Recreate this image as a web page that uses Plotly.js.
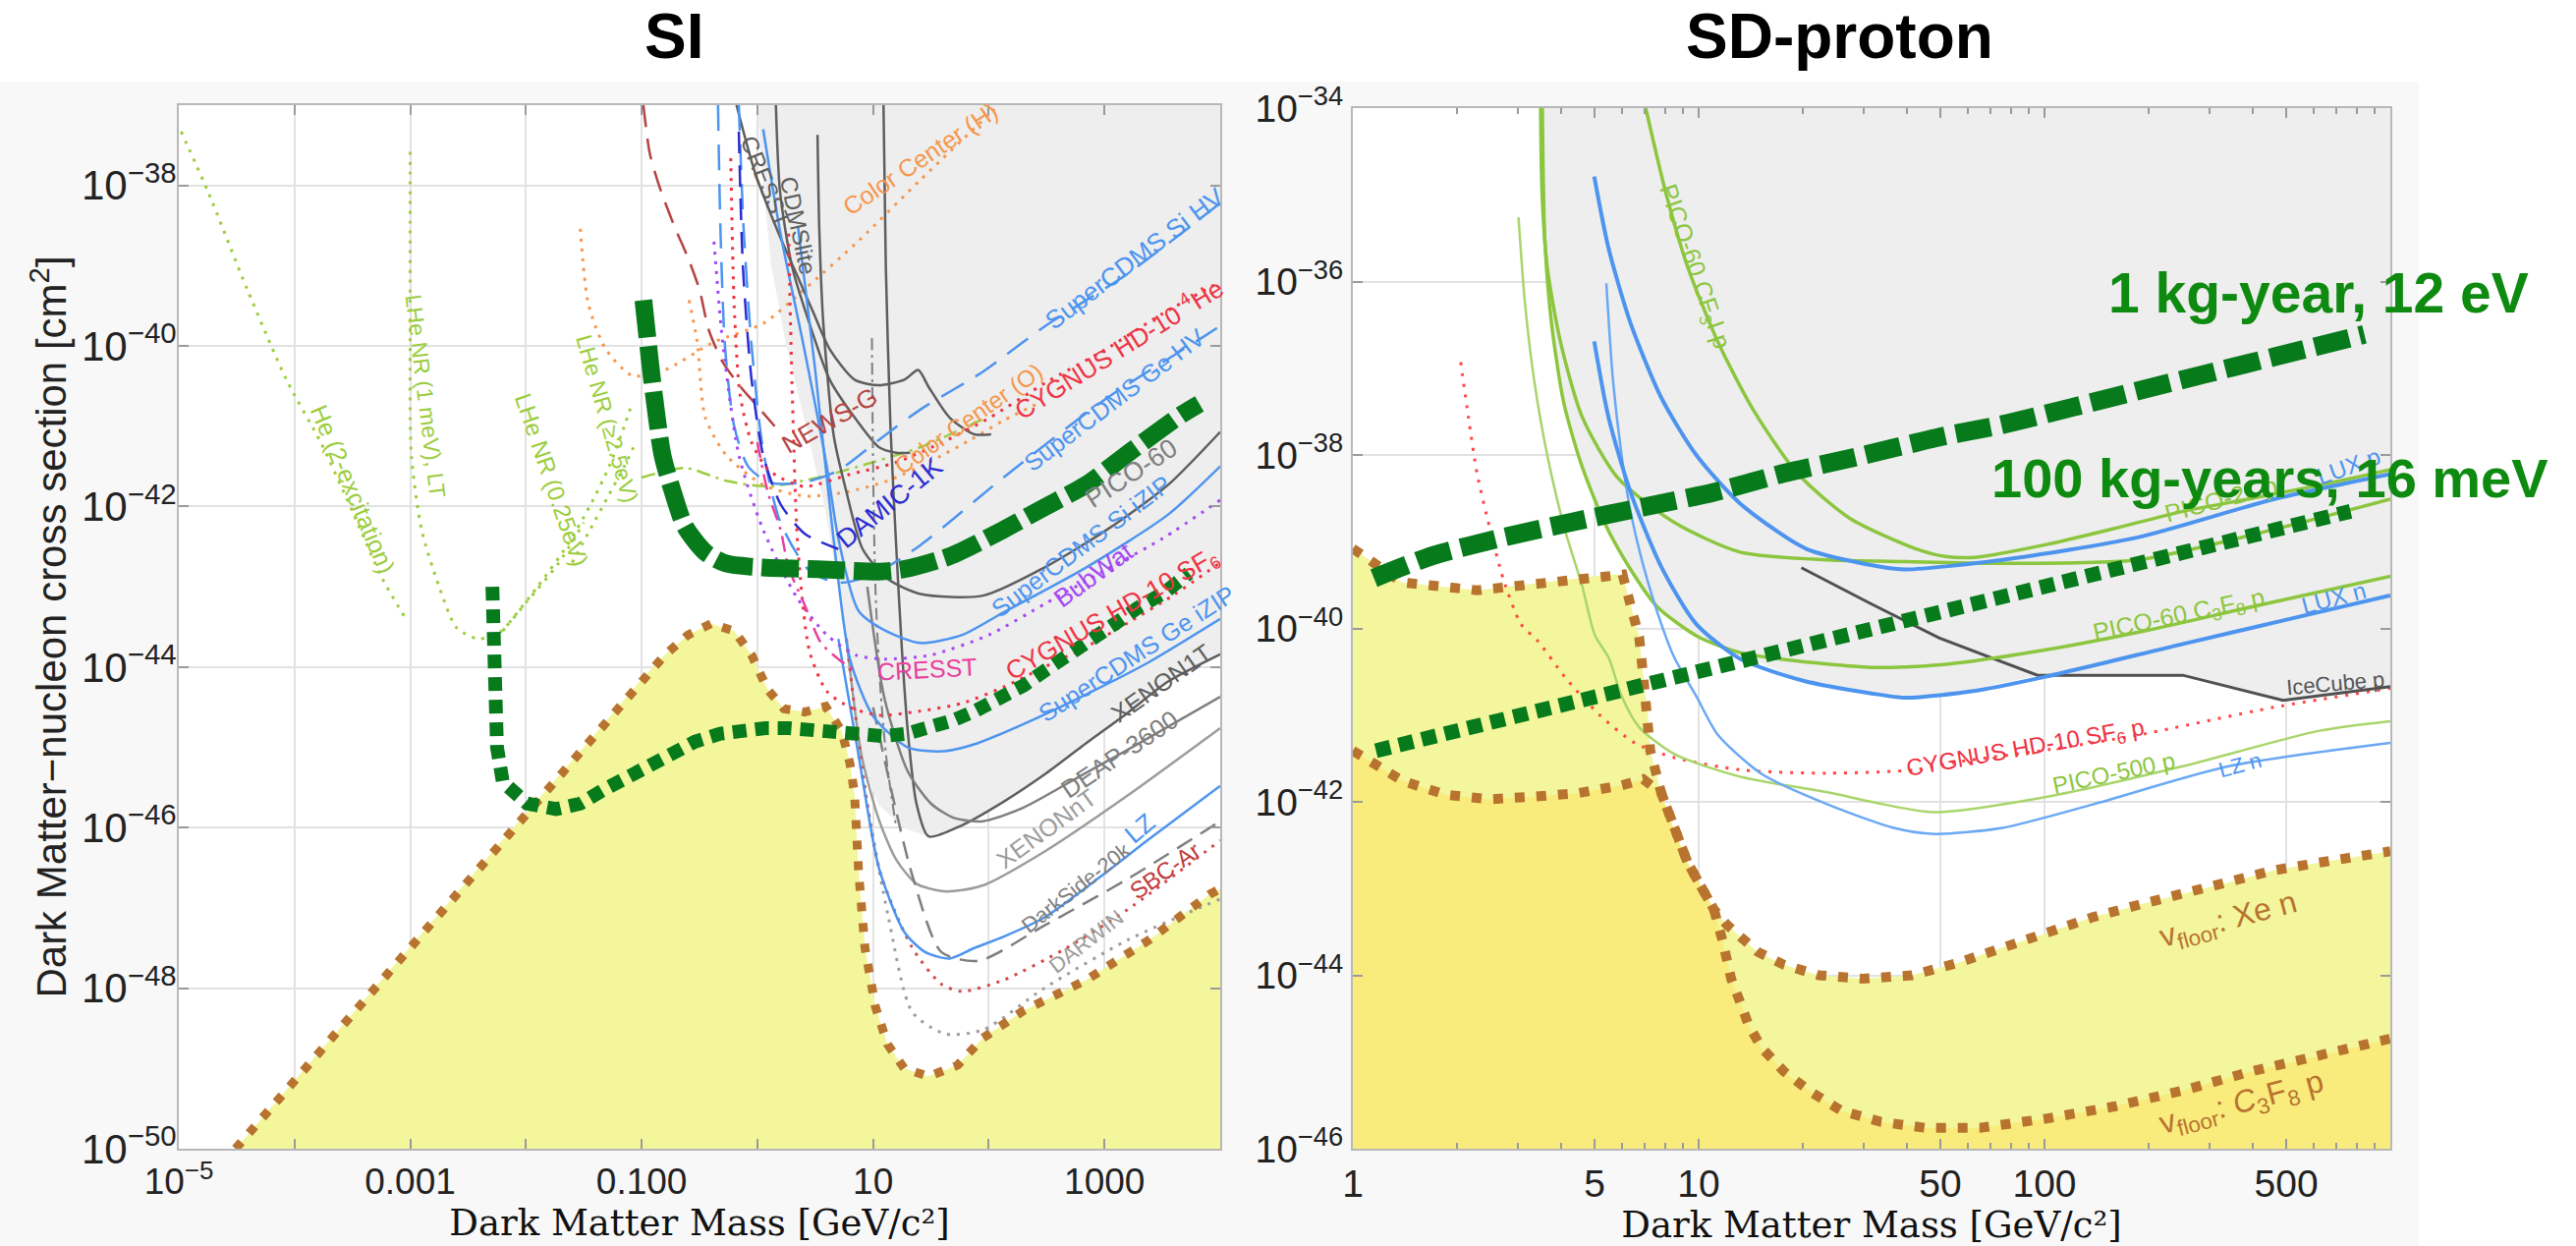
<!DOCTYPE html>
<html><head><meta charset="utf-8">
<script src="https://cdn.plot.ly/plotly-3.0.1.min.js"></script>
<style>html,body{margin:0;padding:0;background:#fff}#chart{width:2622px;height:1268px}</style>
</head><body><div id="chart"></div>
<script>
// ===== DATA: log10(mass / GeV) and log10(cross section / cm^2) =====
// ---- SI panel ----
const siFloorM = [-4.51,-4.0,-3.5,-3.0,-2.5,-2.03,-1.5,-1.0,-0.8,-0.6,-0.4,-0.2,-0.05,0.089,0.23,0.41,0.59,0.73,0.80,0.84,0.875,0.93,1.02,1.125,1.27,1.48,1.73,1.95,2.30,2.84,3.375,3.91,4.0];
const siFloorS = [-50,-49.15,-48.32,-47.48,-46.65,-45.87,-45.0,-44.15,-43.85,-43.6,-43.46,-43.55,-43.85,-44.28,-44.52,-44.56,-44.49,-44.8,-45.2,-45.58,-46.55,-47.5,-48.23,-48.7,-49.0,-49.1,-48.96,-48.62,-48.28,-47.9,-47.41,-46.83,-46.76];
const siShadeM = [0.0,0.05,0.12,0.25,0.42,0.58,0.7,0.77,0.875,1.05,1.27,1.48,1.77,2.125,2.48,2.84,3.2,3.55,4.0];
const siShadeS = [-37,-38.0,-39.0,-40.0,-41.0,-42.0,-43.0,-43.65,-45.1,-45.72,-46.01,-46.11,-45.97,-45.68,-45.34,-44.95,-44.57,-44.18,-43.84];
const siOneKgM = [-0.985,-0.95,-0.91,-0.82,-0.73,-0.625,-0.45,-0.27,0.05,0.52,1.05,1.27,1.66,2.125,2.48,2.84,3.23,3.66,3.82];
const siOneKgS = [-39.43,-39.9,-40.42,-41.36,-41.82,-42.25,-42.57,-42.71,-42.76,-42.78,-42.81,-42.78,-42.62,-42.29,-42.01,-41.73,-41.31,-40.86,-40.72];
const siHundredKgM = [-2.29,-2.27,-2.25,-2.2,-2.1,-1.99,-1.74,-1.53,-1.33,-1.12,-0.93,-0.73,-0.54,-0.32,-0.125,0.07,0.27,0.48,0.70,0.89,1.09,1.29,1.5,1.70,1.89,2.09,2.30,2.5,2.71,2.91,3.11,3.30,3.52,3.73];
const siHundredKgS = [-43.0,-43.99,-45.0,-45.43,-45.58,-45.70,-45.77,-45.70,-45.53,-45.36,-45.2,-45.05,-44.93,-44.83,-44.78,-44.76,-44.76,-44.78,-44.83,-44.86,-44.86,-44.83,-44.76,-44.66,-44.54,-44.4,-44.23,-44.03,-43.84,-43.65,-43.44,-43.25,-43.07,-42.83];
const heExcM = [-4.98,-4.75,-4.41,-4.07,-3.77,-3.5,-3.24,-3.05];
const heExcS = [-37.33,-38.07,-39.29,-40.42,-41.21,-42.06,-42.9,-43.37];
const lhe1meVM = [-3.0,-3.0,-2.99,-2.9,-2.75,-2.6,-2.41,-2.22,-1.99,-1.72,-1.5];
const lhe1meVS = [-37.58,-39.5,-41.36,-42.3,-43.0,-43.51,-43.65,-43.56,-43.18,-42.71,-42.2];
const lhe025M = [-2.2,-1.9,-1.65,-1.45,-1.28,-1.15,-1.08];
const lhe025S = [-43.55,-43.0,-42.5,-42.0,-41.5,-41.0,-40.7];
const lhe25M = [-1.6,-1.45,-1.3,-1.15,-1.05];
const lhe25S = [-42.7,-42.3,-41.9,-41.5,-41.2];
const lheDashDotM = [-1.0,-0.625,-0.27,0.09,0.52,0.875,1.41,1.98];
const lheDashDotS = [-41.64,-41.52,-41.68,-41.75,-41.64,-41.5,-41.26,-40.89];
const colorHM = [-1.53,-1.46,-1.31,-1.08,-0.8,-0.375,0.05,0.41,0.875,1.41,2.05];
const colorHS = [-38.54,-39.48,-40.04,-40.37,-40.3,-39.95,-39.72,-39.29,-38.69,-37.93,-37.05];
const colorOM = [-0.59,-0.52,-0.45,-0.27,0.05,0.41,0.77,1.125,1.48,1.84,2.125,2.45];
const colorOS = [-39.43,-39.95,-40.89,-41.36,-41.73,-41.87,-41.82,-41.68,-41.45,-41.17,-40.93,-40.7];
const newsGM = [-0.985,-0.93,-0.85,-0.72,-0.6,-0.5,-0.42,-0.3,-0.15,0.0,0.15];
const newsGS = [-37.0,-37.6,-38.0,-38.5,-38.9,-39.3,-39.8,-40.2,-40.5,-40.75,-41.0];
const cresstM = [-0.18,-0.02,0.196,0.34,0.48,0.625,0.84,1.05,1.27,1.39,1.48,1.66,1.875,2.02];
const cresstS = [-37.0,-37.84,-38.64,-39.11,-39.57,-40.04,-40.42,-40.49,-40.42,-40.30,-40.51,-40.89,-41.1,-41.1];
const cdmsliteM = [0.16,0.196,0.30,0.45,0.625,0.84,1.05,1.2,1.32];
const cdmsliteS = [-37.0,-38.08,-39.01,-39.72,-40.42,-40.89,-41.26,-41.33,-41.33];
const pico60M = [0.52,0.535,0.57,0.66,0.77,0.91,1.125,1.41,1.95,2.48,3.02,3.55,4.0];
const pico60S = [-37.37,-38.54,-39.72,-41.12,-41.82,-42.53,-42.9,-43.09,-43.11,-42.76,-42.29,-41.73,-41.07];
const xenon1tM = [1.09,1.11,1.15,1.2,1.25,1.3,1.375,1.48,1.77,2.125,2.48,2.84,3.2,3.55,4.0];
const xenon1tS = [-37.0,-39.0,-41.0,-42.5,-43.8,-44.8,-45.7,-46.11,-45.97,-45.68,-45.34,-44.95,-44.57,-44.18,-43.84];
const deapM = [0.95,1.1,1.3,1.5,1.7,1.95,2.3,2.8,3.3,4.0];
const deapS = [-43.0,-44.4,-45.3,-45.7,-45.88,-45.92,-45.75,-45.35,-44.95,-44.37];
const xenonntM = [0.77,0.9,1.05,1.2,1.375,1.59,1.70,1.95,2.48,3.2,4.0];
const xenonntS = [-43.65,-45.1,-45.9,-46.4,-46.7,-46.79,-46.79,-46.72,-46.3,-45.6,-44.76];
const lzM = [0.7,0.875,1.05,1.27,1.45,1.66,1.875,2.125,2.48,3.02,3.37,4.0];
const lzS = [-43.65,-45.1,-46.5,-47.3,-47.55,-47.63,-47.5,-47.36,-47.12,-46.55,-46.16,-45.48];
const ds20kM = [1.0,1.2,1.34,1.59,1.91,2.48,3.2,4.0];
const ds20kS = [-44.5,-45.8,-46.6,-47.55,-47.66,-47.22,-46.64,-45.92];
const sbcArM = [0.77,1.05,1.34,1.59,1.77,2.125,2.66,3.2,4.0];
const sbcArS = [-43.65,-46.5,-47.5,-47.95,-48.04,-47.9,-47.51,-47.02,-46.16];
const darwinM = [0.875,1.13,1.34,1.625,1.95,2.48,3.2,4.0];
const darwinS = [-45.1,-47.1,-48.3,-48.57,-48.52,-48.0,-47.4,-46.89];
const ds50M = [0.99,1.0,1.02,1.06,1.12,1.2];
const ds50S = [-39.9,-41.5,-43.0,-44.2,-45.2,-46.0];
const scdmsSiIzipM = [0.05,0.2,0.4,0.6,0.7,0.875,1.125,1.41,1.77,2.125,2.84,3.55,4.0];
const scdmsSiIzipS = [-37.3,-38.6,-40.0,-41.5,-42.4,-43.3,-43.56,-43.70,-43.6,-43.32,-42.76,-42.1,-41.5];
const scdmsGeIzipM = [0.35,0.5,0.65,0.8,1.0,1.3,1.6,1.9,2.3,2.8,3.37,4.0];
const scdmsGeIzipS = [-38.5,-40.3,-42.3,-43.9,-44.61,-45.0,-45.05,-44.95,-44.71,-44.37,-43.95,-43.4];
const scdmsSiHVM = [-0.34,-0.32,-0.28,-0.2,-0.08,0.1,0.4,0.7,1.05,1.41,1.95,2.48,3.2,4.0];
const scdmsSiHVS = [-37.0,-38.5,-40.0,-41.0,-41.5,-41.7,-41.7,-41.55,-41.17,-40.79,-40.32,-39.76,-39.1,-38.22];
const scdmsGeHVM = [-0.16,-0.12,-0.05,0.05,0.2,0.45,0.7,1.0,1.41,2.125,3.02,3.84,4.0];
const scdmsGeHVS = [-37.0,-38.5,-40.0,-41.3,-42.2,-42.8,-42.95,-42.85,-42.48,-41.64,-40.65,-39.9,-39.75];
const damicM = [-0.16,-0.125,-0.05,0.05,0.2,0.41,0.7];
const damicS = [-37.33,-39.01,-40.42,-41.36,-41.97,-42.34,-42.53];
const bubwatM = [-0.375,-0.3,-0.16,0.05,0.34,0.6,0.85,1.1,1.5,2.0,2.5,3.0,3.5,4.0];
const bubwatS = [-38.7,-39.95,-41.36,-42.29,-43.13,-43.6,-43.85,-43.9,-43.85,-43.6,-43.2,-42.8,-42.4,-41.92];
const cygHeM = [-0.23,-0.2,-0.15,-0.05,0.1,0.4,0.8,1.2,1.6,2.0,2.5,3.0,3.5,4.0];
const cygHeS = [-37.66,-39.5,-40.6,-41.2,-41.55,-41.75,-41.6,-41.45,-41.2,-40.9,-40.45,-40.05,-39.6,-39.2];
const cygSF6M = [0.27,0.3,0.35,0.45,0.6,0.8,1.05,1.4,1.77,2.125,2.48,2.84,3.2,3.6,4.0];
const cygSF6S = [-38.6,-40.5,-42.5,-43.8,-44.3,-44.5,-44.6,-44.55,-44.45,-44.25,-44.0,-43.75,-43.45,-43.1,-42.7];
const cresstIIIM = [0.0,0.09,0.2,0.27,0.41,0.55,0.7,0.85];
const cresstIIIS = [-41.2,-41.82,-42.29,-42.76,-43.23,-43.7,-43.9,-44.05];

// ---- SD-proton panel ----
const sdShadeM = [0.543,0.548,0.555,0.575,0.61,0.66,0.73,0.80,0.88,1.0,1.12,1.3,1.5,1.6,1.8,1.98,2.40,2.69,3.0];
const sdShadeS = [-34.0,-35.0,-35.5,-36.5,-37.4,-38.1,-38.8,-39.3,-39.75,-40.1,-40.3,-40.6,-40.75,-40.8,-40.7,-40.54,-40.54,-40.83,-40.67];
const xeFloorM = [0,0.143,0.359,0.549,0.739,0.78,0.803,0.828,0.84,0.853,0.86,0.892,0.93,0.968,1.006,1.044,1.082,1.12,1.171,1.247,1.348,1.475,1.617,1.747,1.878,2.009,2.14,2.27,2.40,2.532,2.663,2.795,3.0];
const xeFloorS = [-39.08,-39.47,-39.56,-39.47,-39.38,-39.38,-39.73,-40.1,-40.56,-41.0,-41.41,-41.9,-42.34,-42.70,-42.97,-43.24,-43.42,-43.55,-43.73,-43.88,-44.0,-44.04,-44.0,-43.86,-43.68,-43.51,-43.33,-43.19,-43.06,-42.93,-42.79,-42.70,-42.57];
const c3f8FloorM = [0,0.055,0.144,0.27,0.397,0.524,0.65,0.777,0.84,0.892,0.93,0.968,1.006,1.044,1.069,1.094,1.12,1.145,1.183,1.247,1.323,1.412,1.526,1.656,1.813,2.009,2.205,2.40,2.597,2.795,3.0];
const c3f8FloorS = [-41.41,-41.54,-41.76,-41.92,-41.97,-41.94,-41.90,-41.81,-41.74,-41.90,-42.34,-42.70,-42.97,-43.24,-43.6,-44.04,-44.31,-44.58,-44.84,-45.11,-45.34,-45.56,-45.69,-45.76,-45.76,-45.65,-45.51,-45.33,-45.11,-44.93,-44.73];
const sdOneKgM = [0.061,0.232,0.435,0.638,0.841,1.044,1.247,1.437,1.713,1.878,2.27,2.663,2.925];
const sdOneKgS = [-39.42,-39.16,-38.95,-38.77,-38.6,-38.43,-38.21,-38.04,-37.78,-37.65,-37.26,-36.87,-36.61];
const sdHundredKgM = [0.067,0.27,0.467,0.67,0.866,1.075,1.272,1.486,1.878,2.14,2.40,2.663,2.885];
const sdHundredKgS = [-41.41,-41.21,-41.03,-40.84,-40.64,-40.44,-40.24,-40.02,-39.66,-39.38,-39.14,-38.86,-38.65];
const picoCF3IM = [0.847,0.904,0.968,1.056,1.158,1.285,1.437,1.627,1.713,1.8,2.009,2.2,2.40,2.6,2.795,3.0];
const picoCF3IS = [-34.0,-34.96,-35.83,-36.70,-37.48,-38.21,-38.73,-39.08,-39.17,-39.18,-39.03,-38.85,-38.65,-38.5,-38.35,-38.17];
const pico2LM = [0.543,0.547,0.562,0.6,0.663,0.765,0.93,1.12,1.373,1.6,1.878,2.27,2.663,3.0];
const pico2LS = [-34.0,-34.96,-35.83,-36.69,-37.56,-38.26,-38.78,-39.12,-39.21,-39.23,-39.25,-39.21,-38.86,-38.51];
const picoC3F8M = [0.548,0.555,0.575,0.61,0.66,0.73,0.80,0.88,1.0,1.12,1.25,1.5,1.7,2.0,2.3,2.6,3.0];
const picoC3F8S = [-34.0,-35.5,-36.5,-37.4,-38.1,-38.8,-39.3,-39.75,-40.1,-40.28,-40.36,-40.45,-40.42,-40.25,-40.02,-39.75,-39.4];
const pico500M = [0.479,0.498,0.524,0.562,0.613,0.663,0.70,0.74,0.777,0.828,0.93,1.12,1.373,1.5,1.682,2.009,2.40,2.795,3.0];
const pico500S = [-35.26,-36.26,-37.13,-38.0,-38.86,-39.51,-40.08,-40.34,-40.78,-41.14,-41.45,-41.71,-41.89,-42.0,-42.12,-41.94,-41.59,-41.18,-41.07];
const luxPM = [0.698,0.739,0.803,0.892,0.993,1.12,1.31,1.526,1.6,1.878,2.27,2.663,3.0];
const luxPS = [-34.79,-35.61,-36.48,-37.34,-38.0,-38.56,-39.08,-39.29,-39.32,-39.21,-38.95,-38.51,-38.22];
const luxNM = [0.698,0.739,0.803,0.892,0.993,1.12,1.3,1.5,1.6,1.8,2.0,2.4,2.7,3.0];
const luxNS = [-36.69,-37.56,-38.43,-39.29,-39.95,-40.35,-40.6,-40.75,-40.8,-40.72,-40.56,-40.18,-39.9,-39.62];
const lzNM = [0.733,0.752,0.777,0.803,0.841,0.892,0.93,0.993,1.056,1.183,1.373,1.564,1.682,1.878,2.14,2.532,3.0];
const lzNS = [-36.02,-37.13,-38.0,-38.65,-39.29,-39.95,-40.34,-40.78,-41.23,-41.68,-42.03,-42.3,-42.37,-42.3,-42.03,-41.59,-41.32];
const cygSDM = [0.312,0.334,0.359,0.397,0.435,0.486,0.536,0.613,0.714,0.815,0.93,1.12,1.373,1.627,1.747,2.009,2.27,2.663,3.0];
const cygSDS = [-36.93,-37.56,-38.21,-38.86,-39.43,-39.95,-40.15,-40.56,-41.0,-41.32,-41.49,-41.63,-41.67,-41.63,-41.54,-41.4,-41.23,-40.91,-40.69];
const iceCubeM = [1.297,1.5,1.695,1.98,2.40,2.69,3.0];
const iceCubeS = [-39.3,-39.72,-40.11,-40.54,-40.54,-40.83,-40.67];

// tick labels
const siXTickVals = [1e-5, 1e-3, 1e-1, 1e1, 1e3];
const siXTickText = ['10<sup>−5</sup>', '0.001', '0.100', '10', '1000'];
const siXMinorVals = [1e-4, 1e-2, 1, 1e2, 1e4];
const siYTickExp = [-50, -48, -46, -44, -42, -40, -38];
const sdXTickVals = [1, 5, 10, 50, 100, 500];
const sdXTickText = ['1', '5', '10', '50', '100', '500'];
const sdXMinorVals = [2,3,4,6,7,8,9,20,30,40,60,70,80,90,200,300,400,600,700,800,900];
const sdYTickExp = [-46, -44, -42, -40, -38, -36, -34];

// ===== drawing =====
const W = 2622, H = 1268;
const SI_X = [-5, 4], SI_Y = [-50, -37], SD_X = [0, 3], SD_Y = [-46, -34];
const p10 = v => Math.pow(10, v);
const px = x => x / W, py = y => 1 - y / H;
const powLabel = e => '10<sup>−' + (-e) + '</sup>';

function line(lm, ls, color, width, dash, right, shape) {
  return {type:'scatter', mode:'lines', x: lm.map(p10), y: ls.map(p10),
    xaxis: right ? 'x2' : 'x', yaxis: right ? 'y2' : 'y', hoverinfo:'skip',
    line:{color:color, width:width, dash:dash||'solid', shape:shape||'spline', smoothing:0.7}};
}
function area(lm, ls, color, right, closeX, closeY) {
  const xs = lm.concat(closeX), ys = ls.concat(closeY);
  return {type:'scatter', mode:'lines', x: xs.map(p10), y: ys.map(p10), fill:'toself',
    fillcolor: color, line:{width:0, color:color}, hoverinfo:'skip',
    xaxis: right ? 'x2' : 'x', yaxis: right ? 'y2' : 'y'};
}

const LG = '#9ccd3e', ORG = '#f5964c', DRED = '#b54444', DG = '#5e5e5e', MG = '#7f7f7f', LGY = '#9c9c9c',
      BL = '#4d94ef', DBL = '#2c2cd2', PUR = '#a547f3', RED = '#ee3344', MAG = '#e8409e',
      BROWN = '#b8732f', PROJ = '#077a1b', PG = '#8cc63f', PG2 = '#a9d56b', BL2 = '#6aa8f4';

const traces = [
  // --- SI ---
  area(siShadeM, siShadeS, '#eeeeee', false, [SI_X[1]], [SI_Y[1]]),
  area(siFloorM, siFloorS, '#f3f69b', false, [SI_X[1], siFloorM[0]], [SI_Y[0]-1, SI_Y[0]-1]),
  line(heExcM, heExcS, LG, 3, '3px,7px'),
  line(lhe1meVM, lhe1meVS, LG, 3, '3px,7px'),
  line(lhe025M, lhe025S, LG, 3, '3px,7px'),
  line(lhe25M, lhe25S, LG, 3, '3px,7px'),
  line(lheDashDotM, lheDashDotS, LG, 2.5, '14px,6px,3px,6px'),
  line(colorHM, colorHS, ORG, 3, '3px,7px'),
  line(colorOM, colorOS, ORG, 3, '3px,7px'),
  line(newsGM, newsGS, DRED, 2.5, '22px,12px'),
  line(cresstM, cresstS, DG, 2.5),
  line(cdmsliteM, cdmsliteS, DG, 2.5),
  line(pico60M, pico60S, DG, 2.5),
  line(xenon1tM, xenon1tS, DG, 2.5),
  line(deapM, deapS, MG, 2.5),
  line(xenonntM, xenonntS, LGY, 2.5),
  line(ds50M, ds50S, MG, 2, '12px,5px,3px,5px'),
  line(ds20kM, ds20kS, MG, 2.5, '18px,10px'),
  line(darwinM, darwinS, LGY, 3, '3px,7px'),
  line(sbcArM, sbcArS, '#d24a4a', 3, '3px,7px'),
  line(lzM, lzS, BL, 2.5),
  line(scdmsSiIzipM, scdmsSiIzipS, BL, 2.5),
  line(scdmsGeIzipM, scdmsGeIzipS, BL, 2.5),
  line(scdmsSiHVM, scdmsSiHVS, BL, 2.5, '26px,14px'),
  line(scdmsGeHVM, scdmsGeHVS, BL, 2.5, '26px,14px'),
  line(damicM, damicS, DBL, 2.5, '22px,12px'),
  line(bubwatM, bubwatS, PUR, 3, '3px,7px'),
  line(cygHeM, cygHeS, RED, 3, '3px,7px'),
  line(cygSF6M, cygSF6S, RED, 3, '3px,7px'),
  line(cresstIIIM, cresstIIIS, MAG, 2.5, '16px,7px,3px,7px'),
  line(siFloorM, siFloorS, BROWN, 9, '9px,12px', false, 'linear'),
  line(siOneKgM, siOneKgS, PROJ, 18, '38px,9px'),
  line(siHundredKgM, siHundredKgS, PROJ, 14, '14px,9px', false, 'linear'),
  // --- SD-proton ---
  area(sdShadeM, sdShadeS, '#eeeeee', true, [SD_X[1]], [SD_Y[1]]),
  area(xeFloorM, xeFloorS, '#f3f69c', true, [SD_X[1], SD_X[0]], [SD_Y[0]-1, SD_Y[0]-1]),
  area(c3f8FloorM, c3f8FloorS, '#f9ec7d', true, [SD_X[1], SD_X[0]], [SD_Y[0]-1, SD_Y[0]-1]),
  line(cygSDM, cygSDS, '#ff4545', 3, '3px,8px', true),
  line(iceCubeM, iceCubeS, '#505050', 3, 'solid', true, 'linear'),
  line(pico500M, pico500S, PG2, 2.5, 'solid', true),
  line(picoCF3IM, picoCF3IS, PG, 3.5, 'solid', true),
  line(pico2LM, pico2LS, PG, 3.5, 'solid', true),
  line(picoC3F8M, picoC3F8S, PG, 3.5, 'solid', true),
  line(lzNM, lzNS, BL2, 2.5, 'solid', true),
  line(luxPM, luxPS, BL, 4, 'solid', true),
  line(luxNM, luxNS, BL, 4, 'solid', true),
  line(xeFloorM, xeFloorS, BROWN, 10, '10px,12px', true, 'linear'),
  line(c3f8FloorM, c3f8FloorS, BROWN, 10, '10px,12px', true, 'linear'),
  line(sdOneKgM, sdOneKgS, PROJ, 19, '36px,11px', true),
  line(sdHundredKgM, sdHundredKgS, PROJ, 15, '15px,9px', true, 'linear')
];

function lab(text, x, y, angle, color, size, bold) {
  return {xref:'paper', yref:'paper', x: px(x), y: py(y), text: bold ? '<b>'+text+'</b>' : text,
    textangle: angle, showarrow:false, xanchor:'center', yanchor:'middle',
    font:{family:'Liberation Sans, Arial, sans-serif', size:size, color:color}};
}

const annotations = [
  lab('SI', 686, 37, 0, '#000', 64, true),
  lab('SD-proton', 1872, 37, 0, '#000', 64, true),
  // SI labels
  lab('He (2-excitation)', 359, 497, 67, LG, 25),
  lab('LHe NR (1 meV), LT', 433, 403, 83, LG, 23),
  lab('LHe NR (0.25eV)', 562, 488, 71, LG, 24),
  lab('LHe NR (≥2.5eV)', 618, 426, 74, LG, 23),
  lab('Color Center (H)', 936, 162, -34, ORG, 25),
  lab('SuperCDMS Si HV', 1155, 263, -37, BL, 26),
  lab('CYGNUS HD-10 <sup>4</sup>He', 1138, 354, -32, RED, 26),
  lab('SuperCDMS Ge HV', 1134, 407, -37, BL, 25),
  lab('Color Center (O)', 985, 426, -35, ORG, 24),
  lab('NEWS-G', 844, 428, -30, DRED, 26),
  lab('DAMIC-1K', 905, 512, -39, DBL, 27),
  lab('PICO-60', 1151, 482, -33, MG, 27),
  lab('SuperCDMS Si iZIP', 1100, 556, -37, BL, 25),
  lab('BubWat', 1113, 585, -36, PUR, 26),
  lab('CYGNUS HD-10 SF<sub>6</sub>', 1132, 625, -30, RED, 26),
  lab('SuperCDMS Ge iZIP', 1157, 665, -33, BL, 25),
  lab('CRESST', 943, 681, -3, MAG, 25),
  lab('XENON1T', 1182, 695, -35, DG, 25),
  lab('DEAP-3600', 1139, 768, -34, MG, 26),
  lab('XENONnT', 1065, 843, -36, LGY, 25),
  lab('LZ', 1160, 843, -40, BL, 26),
  lab('DarkSide-20k', 1095, 903, -38, MG, 22),
  lab('SBC-Ar', 1185, 886, -35, '#c03a3a', 24),
  lab('DARWIN', 1105, 958, -38, LGY, 22),
  lab('CRESST', 779, 185, 68, DG, 24),
  lab('CDMSlite', 812, 229, 78, DG, 24),
  // SD labels
  lab('PICO-60 CF<sub>3</sub>I p', 1724, 271, 71, PG, 25),
  lab('PICO-2L p', 2260, 508, -15, PG, 25),
  lab('LUX p', 2390, 474, -20, BL, 24),
  lab('PICO-60 C<sub>3</sub>F<sub>8</sub> p', 2218, 627, -12, PG, 25),
  lab('LUX n', 2375, 608, -15, BL, 24),
  lab('IceCube p', 2377, 695, -5, '#555', 22),
  lab('CYGNUS HD-10 SF<sub>6</sub> p', 2061, 762, -10, RED, 24),
  lab('PICO-500 p', 2151, 786, -12, PG, 24),
  lab('LZ n', 2280, 778, -15, BL, 22),
  lab('v<sub>floor</sub>: Xe n', 2268, 938, -15, BROWN, 32),
  lab('v<sub>floor</sub>: <i>C</i><sub>3</sub>F<sub>8</sub> p', 2282, 1123, -15, BROWN, 32),
  // projection labels
  lab('1 kg-year, 12 eV', 2360, 298, 0, '#0e8a10', 57, true),
  lab('100 kg-years, 16 meV', 2310, 486, 0, '#0e8a10', 56, true)
];

const axCommon = {type:'log', ticks:'inside', ticklen:10, tickwidth:2, tickcolor:'#9a9a9a',
  showline:true, linecolor:'#b8b8b8', linewidth:2, mirror:'allticks',
  showgrid:true, gridcolor:'#e2e2e2', gridwidth:2, zeroline:false, tickmode:'array'};

const layout = {
  width: W, height: H, margin:{l:0, r:0, t:0, b:0},
  paper_bgcolor:'#f8f8f8', plot_bgcolor:'#ffffff', showlegend:false,
  font:{family:'Liberation Sans, Arial, sans-serif', color:'#222'},
  xaxis: Object.assign({}, axCommon, {
    range: SI_X, domain:[px(182), px(1242)], anchor:'y',
    tickvals: siXTickVals, ticktext: siXTickText,
    minor:{tickvals: siXMinorVals, ticks:'inside', ticklen:10, tickwidth:2, tickcolor:'#9a9a9a', showgrid:true, gridcolor:'#e2e2e2', gridwidth:2},
    tickfont:{family:'Liberation Sans', size:37, color:'#222'},
    title:{text:'Dark Matter Mass [GeV/c²]', font:{family:'DejaVu Serif', size:37, color:'#111'}, standoff:6}
  }),
  yaxis: Object.assign({}, axCommon, {
    range: SI_Y, domain:[py(1169), py(107)], anchor:'x',
    tickvals: siYTickExp.map(p10), ticktext: siYTickExp.map(powLabel),
    ticklabelstandoff: -8,
    tickfont:{family:'Liberation Sans', size:42, color:'#222'},
    title:{text:'Dark Matter−nucleon cross section [cm<sup>2</sup>]', font:{family:'Liberation Sans', size:42, color:'#222'}, standoff:2}
  }),
  xaxis2: Object.assign({}, axCommon, {
    range: SD_X, domain:[px(1377), px(2433)], anchor:'y2',
    tickvals: sdXTickVals, ticktext: sdXTickText,
    minor:{tickvals: sdXMinorVals, ticks:'inside', ticklen:6, tickcolor:'#9a9a9a', showgrid:false},
    tickfont:{family:'Liberation Sans', size:39, color:'#222'},
    title:{text:'Dark Matter Mass [GeV/c²]', font:{family:'DejaVu Serif', size:37, color:'#111'}, standoff:6}
  }),
  yaxis2: Object.assign({}, axCommon, {
    range: SD_Y, domain:[py(1169), py(110)], anchor:'x2',
    tickvals: sdYTickExp.map(p10), ticktext: sdYTickExp.map(powLabel),
    tickfont:{family:'Liberation Sans', size:39, color:'#222'}
  }),
  shapes: [
    {type:'rect', xref:'paper', yref:'paper', x0:0, x1:1, y0:py(83), y1:1, fillcolor:'#ffffff', line:{width:0}, layer:'below'},
    {type:'rect', xref:'paper', yref:'paper', x0:px(2462), x1:1, y0:0, y1:1, fillcolor:'#ffffff', line:{width:0}, layer:'below'}
  ],
  annotations: annotations
};

Plotly.newPlot('chart', traces, layout, {displayModeBar:false, staticPlot:true});
</script></body></html>
